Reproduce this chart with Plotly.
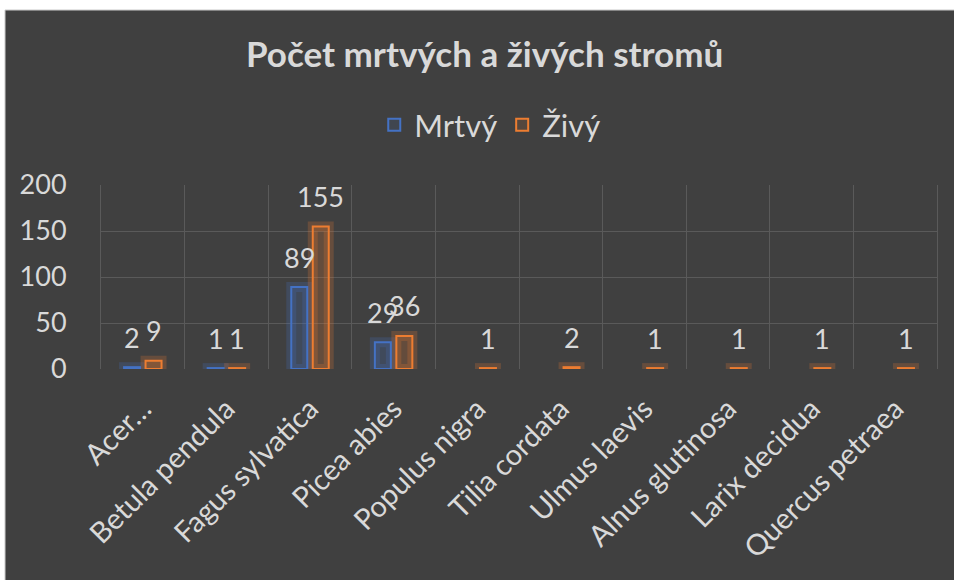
import plotly.graph_objects as go

# data
species = ["Acer…", "Betula pendula", "Fagus sylvatica", "Picea abies", "Populus nigra",
           "Tilia cordata", "Ulmus laevis", "Alnus glutinosa", "Larix decidua", "Quercus petraea"]
mrtvy = [2, 1, 89, 29, None, None, None, None, None, None]
zivy = [9, 1, 155, 36, 1, 2, 1, 1, 1, 1]

BLUE = "#4472C4"
ORANGE = "#ED7D31"
TXT = "#d9d9d9"
GRID = "#5a5a5a"
FONT = "Lato"

fig = go.Figure()

# soft glow behind the bars (same offsetgroup so they overlay the real bar)
for name, vals, rgb, grp in [("Mrtvý", mrtvy, "68,114,196", "m"), ("Živý", zivy, "237,125,49", "z")]:
    fig.add_trace(go.Bar(
        x=species, y=vals, offsetgroup=grp, showlegend=False, hoverinfo="skip",
        marker=dict(color=f"rgba({rgb},0.10)", line=dict(color=f"rgba({rgb},0.22)", width=10))))

fig.add_trace(go.Bar(
    x=species, y=mrtvy, name="Mrtvý", offsetgroup="m",
    marker=dict(color="rgba(68,114,196,0.12)", line=dict(color=BLUE, width=2))))
fig.add_trace(go.Bar(
    x=species, y=zivy, name="Živý", offsetgroup="z",
    marker=dict(color="rgba(237,125,49,0.12)", line=dict(color=ORANGE, width=2))))

# data labels above each bar
labels = []
for vals, shift in [(mrtvy, -10.75), (zivy, 10.75)]:
    for s, v in zip(species, vals):
        if v is None:
            continue
        labels.append(dict(x=s, y=v, text=str(v), showarrow=False, xshift=shift, yshift=30,
                           font=dict(size=27, color=TXT, family=FONT)))

fig.update_layout(
    width=954, height=580,
    paper_bgcolor="white", plot_bgcolor="#404040",
    barmode="group", bargap=0.486, bargroupgap=0.256,
    margin=dict(l=101, r=17, t=185, b=211),
    font=dict(family=FONT, color=TXT),
    title=dict(text="<b>Počet mrtvých a živých stromů</b>", x=0.508, xanchor="center",
               y=0.905, yanchor="middle", font=dict(size=35, color=TXT, family=FONT)),
    legend=dict(orientation="h", x=0.465, xanchor="center", y=1.326, yanchor="middle",
                font=dict(size=31, color=TXT), itemwidth=30, bgcolor="rgba(0,0,0,0)"),
    annotations=labels,
    shapes=[dict(type="rect", xref="paper", yref="paper", x0=-0.1148, x1=1.03,
                 y0=-1.2, y1=1.951, fillcolor="#404040", line=dict(color="#c8c8c8", width=1),
                 layer="below")],
    xaxis=dict(type="category", tickson="boundaries", showgrid=True, gridcolor=GRID,
               tickangle=-45, tickfont=dict(size=29, color=TXT), ticks="", ticklabelstandoff=16),
    yaxis=dict(range=[0, 200], dtick=50, showgrid=True, gridcolor=GRID, zeroline=False,
               showline=True, mirror=True, linecolor=GRID,
               tickfont=dict(size=27, color=TXT), ticklabelstandoff=28),
)

# drop the default page margin so the figure sits at the window's top-left corner
fig.write_html("out.html", config={"displayModeBar": False},
               post_script="document.body.style.margin='0';document.body.style.overflow='hidden';")
